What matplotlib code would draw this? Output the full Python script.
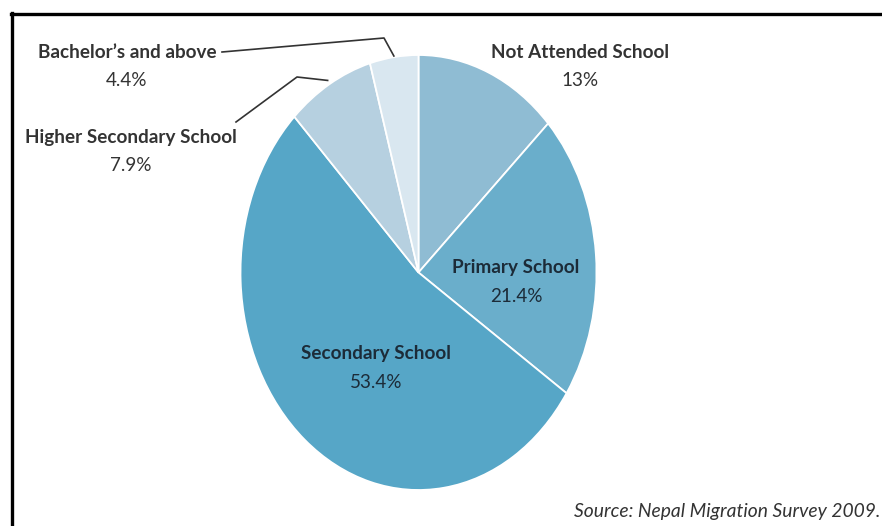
import matplotlib.pyplot as plt
import numpy as np
from matplotlib.lines import Line2D

categories = ["Not Attended School", "Primary School", "Secondary School",
              "Higher Secondary School", "Bachelor\u2019s and above"]
shares = [13, 21.4, 53.4, 7.9, 4.4]
share_labels = ["13%", "21.4%", "53.4%", "7.9%", "4.4%"]
colors = ["#8fbcd3", "#6aaecb", "#56a6c7", "#b6d0e0", "#d9e7f0"]
source = "Source: Nepal Migration Survey 2009."

W, H = 882, 526
FONT = ["Lato", "DejaVu Sans"]

fig = plt.figure(figsize=(W / 100, H / 100), dpi=100)

# pie box in pixels: x 240..597, y 55..490 (stretched vertically)
cx, cy, rx, ry = 418.5, 272.5, 178.0, 217.5
ax = fig.add_axes([(cx - rx) / W, (H - cy - ry) / H, 2 * rx / W, 2 * ry / H])
ax.pie(shares, colors=colors, startangle=90, counterclock=False,
       radius=1.0, wedgeprops=dict(edgecolor="white", linewidth=1.3))
ax.set_xlim(-1, 1)
ax.set_ylim(-1, 1)
ax.set_aspect("auto")
ax.axis("off")


def px(x, y):
    """pixel (from top-left) -> figure fraction"""
    return x / W, 1 - y / H


def to_data(x, y):
    return (x - cx) / rx, (cy - y) / ry


def label(name, pct, x, y, color="#333333"):
    fx, fy = px(x, y)
    fig.text(fx, fy, name, ha="center", va="center", fontsize=13.6,
             fontweight="bold", color=color, family=FONT)
    fx, fy = px(x, y + 28)
    fig.text(fx, fy, pct, ha="center", va="center", fontsize=13.6,
             color=color, family=FONT)


# label centres (pixels)
label_pos = [(580, 53), (516, 268), (376, 354), (131, 137), (127, 52)]
label_col = ["#333333", "#1c2b38", "#1c2b38", "#333333", "#333333"]
for name, pct, (x, y), c in zip(categories, share_labels, label_pos, label_col):
    label(name, pct, x, y, c)

# leader lines for the two thin slices
cum = np.cumsum([0] + shares[:-1])
mids = {i: np.deg2rad((cum[i] + shares[i] / 2) / sum(shares) * 360) for i in (3, 4)}
leaders = {4: [(222, 52), (384, 38)], 3: [(236, 122), (297, 77)]}
tip_r = {4: 1.005, 3: 1.02}
for i, pts in leaders.items():
    tx, ty = tip_r[i] * np.sin(mids[i]), tip_r[i] * np.cos(mids[i])
    xs = [to_data(*p)[0] for p in pts] + [tx]
    ys = [to_data(*p)[1] for p in pts] + [ty]
    ax.plot(xs, ys, color="#333333", lw=1.2, clip_on=False)

# frame on the left and top
fig.add_artist(Line2D([11.5 / W, 11.5 / W], [0, 1 - 12.5 / H],
                      transform=fig.transFigure, color="black", lw=2.4))
fig.add_artist(Line2D([10.5 / W, 1], [1 - 13.5 / H, 1 - 13.5 / H],
                      transform=fig.transFigure, color="black", lw=2.4))

fx, fy = px(880.5, 512)
fig.text(fx, fy, source, ha="right", va="center", fontsize=13.9,
         style="italic", color="#333333", family=FONT)

fig.savefig("out.png", dpi=100)
